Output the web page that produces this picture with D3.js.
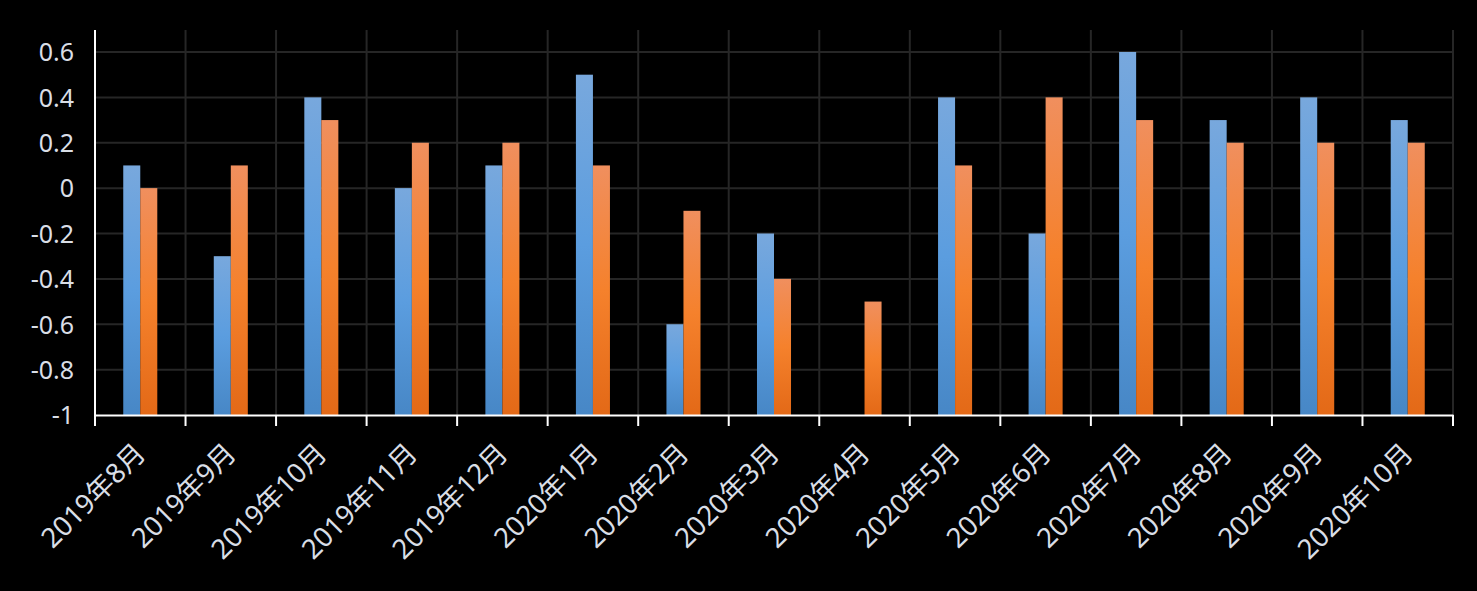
<!DOCTYPE html>
<html>
<head>
<meta charset="utf-8">
<script src="https://cdn.jsdelivr.net/npm/d3@7"></script>
<style>
  body { margin: 0; background: #000000; }
</style>
</head>
<body>
<div id="chart"></div>
<script>
/* Chart data */
const months = [
  "2019年8月", "2019年9月", "2019年10月", "2019年11月", "2019年12月",
  "2020年1月", "2020年2月", "2020年3月", "2020年4月", "2020年5月",
  "2020年6月", "2020年7月", "2020年8月", "2020年9月", "2020年10月"
];
const blueValues = [0.1, -0.3, 0.4, 0, 0.1, 0.5, -0.6, -0.2, -1, 0.4, -0.2, 0.6, 0.3, 0.4, 0.3];
const orangeValues = [0, 0.1, 0.3, 0.2, 0.2, 0.1, -0.1, -0.4, -0.5, 0.1, 0.4, 0.3, 0.2, 0.2, 0.2];
const yTicks = [-1, -0.8, -0.6, -0.4, -0.2, 0, 0.2, 0.4, 0.6];
const yTickLabels = ["-1", "-0.8", "-0.6", "-0.4", "-0.2", "0", "0.2", "0.4", "0.6"];
const seriesKeys = ["blue", "orange"];

const width = 1477;
const height = 591;
const margin = { top: 30, right: 24, bottom: 176, left: 95 };
const innerWidth = width - margin.left - margin.right;
const innerHeight = height - margin.top - margin.bottom;
const textColor = "#d9dee6";
const fontFamily = "'Noto Sans', 'Noto Sans CJK SC', sans-serif";

const rows = months.map((m, i) => ({ month: m, blue: blueValues[i], orange: orangeValues[i] }));

const svg = d3.select("#chart")
  .append("svg")
  .attr("width", width)
  .attr("height", height)
  .style("display", "block")
  .style("background", "#000000");

const defs = svg.append("defs");

const gradients = {
  blue: ["#78a8dd", "#5b9ddf", "#4787c6"],
  orange: ["#f08f5e", "#f5812c", "#e36917"]
};

Object.entries(gradients).forEach(([key, stops]) => {
  const g = defs.append("linearGradient")
    .attr("id", `grad-${key}`)
    .attr("x1", 0).attr("y1", 0)
    .attr("x2", 0).attr("y2", 1);
  g.append("stop").attr("offset", "0%").attr("stop-color", stops[0]);
  g.append("stop").attr("offset", "50%").attr("stop-color", stops[1]);
  g.append("stop").attr("offset", "100%").attr("stop-color", stops[2]);
});

const plot = svg.append("g")
  .attr("transform", `translate(${margin.left},${margin.top})`);

const x = d3.scaleBand()
  .domain(months)
  .range([0, innerWidth]);

const xSub = d3.scaleBand()
  .domain(seriesKeys)
  .range([0, x.bandwidth()])
  .paddingOuter(1.66)
  .paddingInner(0);

const y = d3.scaleLinear()
  .domain([-1, 0.697])
  .range([innerHeight, 0]);

// grid
plot.append("g")
  .selectAll("line")
  .data(yTicks.filter(t => t > -1))
  .join("line")
    .attr("x1", 0)
    .attr("x2", innerWidth)
    .attr("y1", d => y(d))
    .attr("y2", d => y(d))
    .attr("stroke", "#262626")
    .attr("stroke-width", 2);

const boundaries = months.map(m => x(m) + x.bandwidth()).concat([0]);

plot.append("g")
  .selectAll("line")
  .data(boundaries)
  .join("line")
    .attr("x1", d => d)
    .attr("x2", d => d)
    .attr("y1", 0)
    .attr("y2", innerHeight)
    .attr("stroke", "#262626")
    .attr("stroke-width", 2);

// bars
const groups = plot.append("g")
  .selectAll("g")
  .data(rows)
  .join("g")
    .attr("transform", d => `translate(${x(d.month)},0)`);

groups.selectAll("rect")
  .data(d => seriesKeys.map(k => ({ key: k, value: d[k] })))
  .join("rect")
    .attr("x", d => xSub(d.key))
    .attr("width", xSub.bandwidth())
    .attr("y", d => y(d.value))
    .attr("height", d => y(-1) - y(d.value))
    .attr("fill", d => `url(#grad-${d.key})`);

// axes
const xAxis = d3.axisBottom(x)
  .tickValues([])
  .tickSizeOuter(0);

const xAxisG = plot.append("g")
  .attr("transform", `translate(0,${innerHeight})`)
  .call(xAxis);

xAxisG.select(".domain")
  .attr("stroke", "#ffffff")
  .attr("stroke-width", 2);

xAxisG.selectAll(".bound-tick")
  .data(boundaries)
  .join("line")
    .attr("class", "bound-tick")
    .attr("x1", d => d)
    .attr("x2", d => d)
    .attr("y1", 0)
    .attr("y2", 11)
    .attr("stroke", "#ffffff")
    .attr("stroke-width", 2);

xAxisG.selectAll(".month-label")
  .data(months)
  .join("text")
    .attr("class", "month-label")
    .attr("transform", d => `translate(${x(d) + x.bandwidth() / 2 + 7},${40}) rotate(-45)`)
    .attr("text-anchor", "end")
    .attr("font-family", fontFamily)
    .attr("font-size", 27.5)
    .attr("fill", textColor)
    .text(d => d);

const yAxis = d3.axisLeft(y)
  .tickValues(yTicks)
  .tickSize(0)
  .tickPadding(21)
  .tickFormat((d, i) => yTickLabels[i]);

const yAxisG = plot.append("g")
  .call(yAxis);

yAxisG.select(".domain")
  .attr("d", `M0,0V${innerHeight + 11}`)
  .attr("stroke", "#ffffff")
  .attr("stroke-width", 2);

yAxisG.selectAll("text")
  .attr("font-family", fontFamily)
  .attr("font-size", 25)
  .attr("fill", textColor)
  .attr("dy", "0.35em");
</script>
</body>
</html>
